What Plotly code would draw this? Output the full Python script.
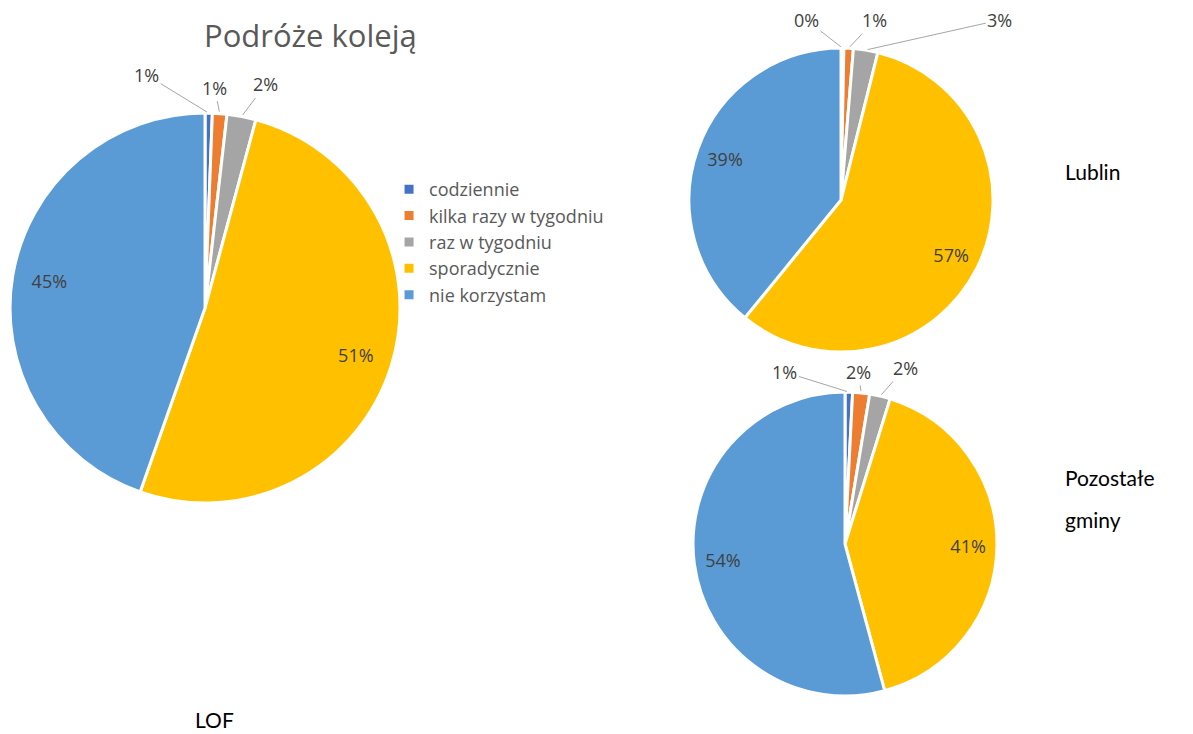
import math
import plotly.graph_objects as go

categories = ["codziennie", "kilka razy w tygodniu", "raz w tygodniu", "sporadycznie", "nie korzystam"]
lof_values = [0.6, 1.2, 2.4, 51.2, 44.6]
lublin_values = [0.3, 1.0, 2.6, 57.0, 39.1]
pozostale_values = [0.8, 1.8, 2.2, 41.0, 54.2]
colors = ["#4472C4", "#ED7D31", "#A5A5A5", "#FFC000", "#5B9BD5"]
title_text = "Podróże koleją"
pie_names = ["LOF", "Lublin", "Pozostałe gminy"]

W, H = 1193, 734
ring_pos = ["none", "none", "none", "inside", "inside"]
label_font = dict(family="Open Sans, DejaVu Sans, sans-serif", size=18, color="#404040")

domains = [
    dict(x=[0.0017, 0.3286], y=[0.3256, 0.8569]),
    dict(x=[0.5708, 0.8257], y=[0.5313, 0.9455]),
    dict(x=[0.5742, 0.8290], y=[0.0627, 0.4768]),
]
# pixel offsets of the leader-line labels of the three small slices (style)
label_offsets = [
    [(-62, -38), (-5, -26), (24, -32)],
    [(-36, -28), (26, -28), (134, -30)],
    [(-64, -20), (-3, -21), (25, -28)],
]

fig = go.Figure()
annotations = []
for vals, name, dom, show, offs in zip([lof_values, lublin_values, pozostale_values], pie_names,
                                       domains, [True, False, False], label_offsets):
    fig.add_trace(go.Pie(
        labels=categories, values=vals, name=name,
        sort=False, direction="clockwise", rotation=0,
        marker=dict(colors=colors, line=dict(color="white", width=3)),
        textinfo="none",
        domain=dom, showlegend=show, hoverinfo="label+percent", automargin=False,
    ))
    # transparent ring overlay: places the big-slice labels near the rim
    fig.add_trace(go.Pie(
        labels=categories, values=vals, name=name,
        sort=False, direction="clockwise", rotation=0, hole=0.62,
        marker=dict(colors=["rgba(0,0,0,0)"] * len(categories), line=dict(width=0)),
        texttemplate="%{percent:.0%}", textposition=ring_pos,
        insidetextorientation="horizontal",
        textfont=label_font, insidetextfont=label_font,
        domain=dom, showlegend=False, hoverinfo="skip", automargin=False,
    ))
    # leader-line labels for the small slices, anchored at each slice's rim midpoint
    total = sum(vals)
    wpx = (dom["x"][1] - dom["x"][0]) * W
    hpx = (dom["y"][1] - dom["y"][0]) * H
    r = min(wpx, hpx) / 2
    cx = (dom["x"][0] + dom["x"][1]) / 2
    cy = (dom["y"][0] + dom["y"][1]) / 2
    cum = 0.0
    for i, v in enumerate(vals):
        mid = (cum + v / 2) / total * 2 * math.pi
        cum += v
        if i >= 3:
            continue
        px = cx + r * math.sin(mid) / W
        py = cy + r * math.cos(mid) / H
        ax, ay = offs[i]
        annotations.append(dict(
            x=px, y=py, xref="paper", yref="paper",
            text=f"{round(v / total * 100):.0f}%", showarrow=True,
            arrowhead=0, arrowwidth=1, arrowcolor="#A6A6A6", standoff=2,
            ax=ax, ay=ay, font=label_font,
        ))

annotations += [
    dict(text=title_text, x=0.2532, y=0.963, xref="paper", yref="paper", showarrow=False,
         xanchor="center", yanchor="middle",
         font=dict(family="Open Sans, DejaVu Sans, sans-serif", size=31, color="#595959")),
    dict(text="LOF", x=0.1735, y=0.030, xref="paper", yref="paper", showarrow=False,
         xanchor="center", yanchor="middle", font=dict(family="Lato, sans-serif", size=21, color="black")),
    dict(text="Lublin", x=0.8843, y=0.7766, xref="paper", yref="paper", showarrow=False,
         xanchor="left", yanchor="middle", font=dict(family="Lato, sans-serif", size=21, color="black")),
    dict(text="Pozostałe", x=0.8843, y=0.3597, xref="paper", yref="paper", showarrow=False,
         xanchor="left", yanchor="middle", font=dict(family="Lato, sans-serif", size=21, color="black")),
    dict(text="gminy", x=0.8843, y=0.3025, xref="paper", yref="paper", showarrow=False,
         xanchor="left", yanchor="middle", font=dict(family="Lato, sans-serif", size=21, color="black")),
]

fig.update_layout(
    width=W, height=H,
    margin=dict(l=0, r=0, t=0, b=0, autoexpand=False),
    paper_bgcolor="white", plot_bgcolor="white",
    legend=dict(x=0.3194, y=0.778, xanchor="left", yanchor="top",
                font=dict(family="Open Sans, DejaVu Sans, sans-serif", size=18, color="#595959"),
                itemwidth=30, bgcolor="rgba(0,0,0,0)"),
    annotations=annotations,
)

fig.write_html("out.html")
